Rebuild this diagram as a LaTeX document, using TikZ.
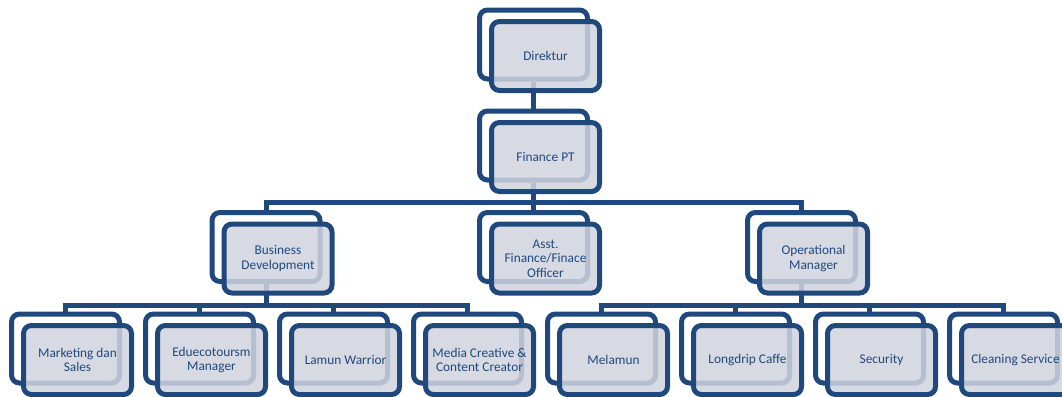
\documentclass[tikz,border=0pt]{standalone}
\usepackage{fontspec}
\setmainfont{Carlito}
\usetikzlibrary{positioning, calc, backgrounds}
\definecolor{orgblue}{RGB}{31,73,125}
\definecolor{orggray}{RGB}{208,212,222}

\begin{document}
\begin{tikzpicture}[x=0.75pt, y=-0.75pt,
  backbox/.style={draw=orgblue, line width=3.75pt, fill=white, rounded corners=6pt,
    minimum width=81pt, minimum height=51.75pt, inner sep=0pt},
  frontbox/.style={backbox, fill=orggray, fill opacity=0.85, text opacity=1, text=orgblue,
    font=\fontsize{10}{10.8}\selectfont, align=center},
  link/.style={draw=orgblue, line width=3.75pt}]
  \useasboundingbox (0,0) rectangle (1062,396);

  % Top levels
  \node[backbox] (dir) at (533.5,44.5) {};
  \node[frontbox] (dirF) at ($(dir)+(12,11.5)$) {Direktur};
  \node[backbox] (fin) at (533.5,145.5) {};
  \node[frontbox] (finF) at ($(fin)+(12,11.5)$) {Finance PT};

  % Managers
  \node[backbox] (bd) at (266,247) {};
  \node[frontbox] (bdF) at ($(bd)+(12,11.5)$) {Business\\Development};
  \node[backbox] (asst) at (533.5,247) {};
  \node[frontbox] (asstF) at ($(asst)+(12,11.5)$) {Asst.\\Finance/Finace\\Officer};
  \node[backbox] (om) at (801.5,247) {};
  \node[frontbox] (omF) at ($(om)+(12,11.5)$) {Operational\\Manager};

  % Staff units
  \node[backbox] (mkt) at (65.5,348.5) {};
  \node[frontbox] (mktF) at ($(mkt)+(12,11.5)$) {Marketing dan\\Sales};
  \node[backbox] (edu) at (199.5,348.5) {};
  \node[frontbox] (eduF) at ($(edu)+(12,11.5)$) {Eduecotoursm\\Manager};
  \node[backbox] (lam) at (333.5,348.5) {};
  \node[frontbox] (lamF) at ($(lam)+(12,11.5)$) {Lamun Warrior};
  \node[backbox] (med) at (467.5,348.5) {};
  \node[frontbox] (medF) at ($(med)+(12,11.5)$) {Media Creative \&\\Content Creator};
  \node[backbox] (mel) at (601.5,348.5) {};
  \node[frontbox] (melF) at ($(mel)+(12,11.5)$) {Melamun};
  \node[backbox] (lng) at (735.5,348.5) {};
  \node[frontbox] (lngF) at ($(lng)+(12,11.5)$) {Longdrip Caffe};
  \node[backbox] (sec) at (869.5,348.5) {};
  \node[frontbox] (secF) at ($(sec)+(12,11.5)$) {Security};
  \node[backbox] (cln) at (1003.5,348.5) {};
  \node[frontbox] (clnF) at ($(cln)+(12,11.5)$) {Cleaning Service};

  % Connectors
  \coordinate (bar2) at (533.5,202);
  \coordinate (bar3a) at (266,305);
  \coordinate (bar3b) at (801.5,305);
  \begin{scope}[on background layer]
    \draw[link] (dir) -- (fin);
    \draw[link] (fin) -- (asst);
    \draw[link] (bd.north) |- (bar2) -| (om.north);
    \draw[link] (bd) -- (bar3a);
    \draw[link] (mkt.north) |- (bar3a) -| (med.north);
    \draw[link] (edu) -- (edu |- bar3a);
    \draw[link] (lam) -- (lam |- bar3a);
    \draw[link] (om) -- (bar3b);
    \draw[link] (mel.north) |- (bar3b) -| (cln.north);
    \draw[link] (lng) -- (lng |- bar3b);
    \draw[link] (sec) -- (sec |- bar3b);
  \end{scope}
\end{tikzpicture}
\end{document}
